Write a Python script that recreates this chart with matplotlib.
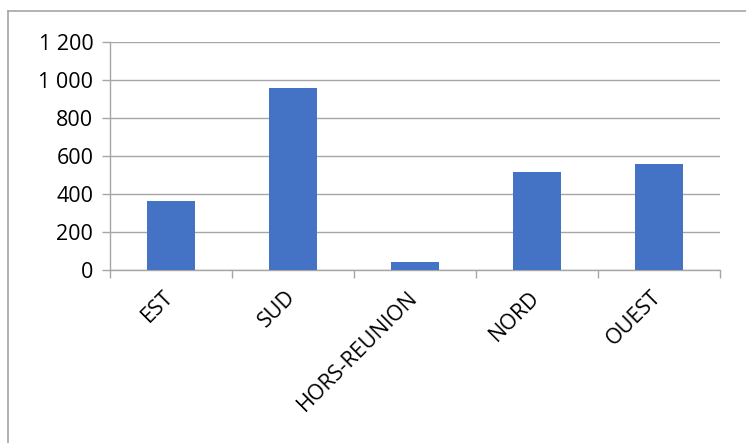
import matplotlib
matplotlib.use("Agg")
import matplotlib.pyplot as plt
import matplotlib.transforms as mtransforms
from matplotlib.ticker import FuncFormatter
from matplotlib.lines import Line2D

# valeurs
regions = ["EST", "SUD", "HORS-REUNION", "NORD", "OUEST"]
valeurs = [362, 954, 44, 516, 556]
graduations = [0, 200, 400, 600, 800, 1000, 1200]

plt.rcParams["font.family"] = ["Open Sans", "DejaVu Sans"]

W, H = 746, 443
fig = plt.figure(figsize=(W / 100, H / 100), dpi=100)
ax = fig.add_axes([110 / W, (H - 270) / H, 610 / W, (270 - 41.5) / H])

gris = "#a6a6a6"
ax.bar(range(len(regions)), valeurs, width=0.4, color="#4472c4", zorder=3)

ax.set_xlim(-0.5, len(regions) - 0.5)
ax.set_ylim(0, 1200)
ax.set_yticks(graduations)
ax.yaxis.set_major_formatter(FuncFormatter(lambda v, p: f"{int(v):,}".replace(",", " ")))
ax.grid(axis="y", color=gris, linewidth=1, zorder=0)

ax.set_xticks(range(len(regions)))
ax.set_xticklabels(regions, rotation=45, ha="right", rotation_mode="anchor")
ax.set_xticks([i - 0.5 for i in range(len(regions) + 1)], minor=True)
ax.tick_params(axis="x", which="major", length=0, pad=12, labelsize=15.5)
ax.tick_params(axis="x", which="minor", length=6, color=gris, width=1)
ax.tick_params(axis="y", length=6, color=gris, width=1, labelsize=15.5, pad=6)

# decalage des etiquettes vers la gauche
decal = mtransforms.ScaledTranslation(-8 / 100, 0, fig.dpi_scale_trans)
for lab in ax.get_xticklabels():
    lab.set_transform(lab.get_transform() + decal)

for s in ["top", "right"]:
    ax.spines[s].set_visible(False)
for s in ["left", "bottom"]:
    ax.spines[s].set_color(gris)
    ax.spines[s].set_linewidth(1)

# cadre du graphique
fig.add_artist(Line2D([8 / W, 1.0], [(H - 11) / H] * 2, color=gris, linewidth=1.2))
fig.add_artist(Line2D([8 / W] * 2, [0, (H - 11) / H], color=gris, linewidth=1.2))

fig.savefig("out.png", dpi=100, facecolor="white")
